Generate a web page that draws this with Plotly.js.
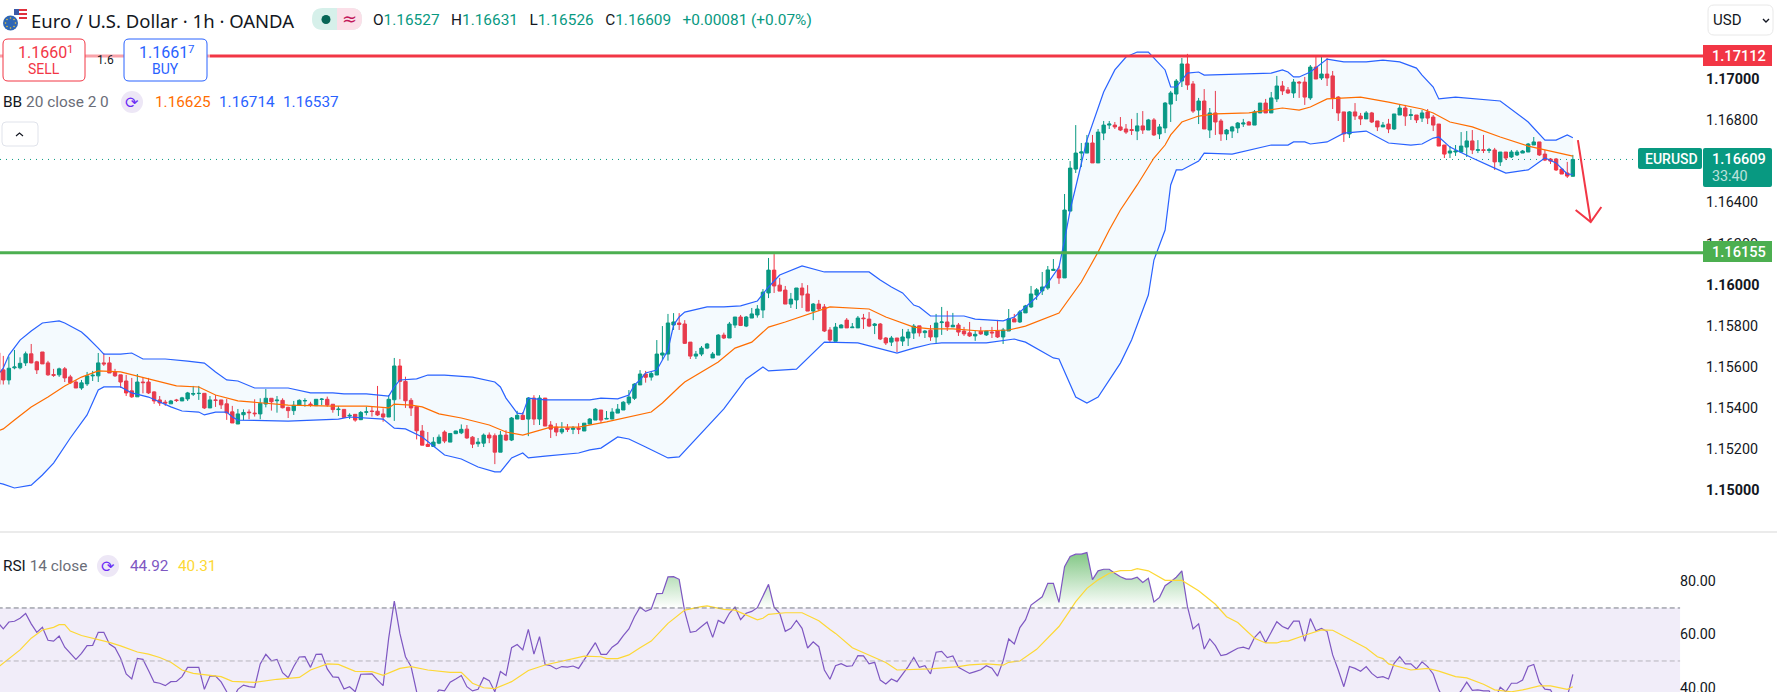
<!DOCTYPE html>
<html><head><meta charset="utf-8">
<script src="https://cdn.plot.ly/plotly-3.0.1.min.js"></script>
<style>html,body{margin:0;padding:0;background:#fff;overflow:hidden}#c{width:1777px;height:692px}</style>
</head><body><div id="c"></div>
<script>
// All prices below are in pipettes (price x 100000)
const opens=[115586,115537,115596,115596,115620,115664,115625,115673,115620,115563,
115562,115591,115552,115527,115498,115518,115557,115557,115620,115620,
115576,115562,115532,115484,115455,115527,115527,115479,115440,115429,
115421,115440,115435,115445,115468,115471,115472,115401,115440,115440,
115421,115382,115323,115368,115381,115376,115372,115420,115448,115436,
115438,115404,115388,115414,115435,115420,115412,115442,115443,115419,
115393,115394,115362,115370,115344,115380,115386,115385,115372,115357,
115441,115605,115530,115438,115407,115289,115224,115214,115230,115284,
115235,115276,115280,115298,115259,115227,115230,115269,115266,115186,
115269,115245,115347,115365,115347,115449,115347,115449,115318,115308,
115284,115303,115297,115303,115289,115323,115342,115391,115347,115347,
115376,115391,115425,115448,115513,115566,115551,115561,115658,115663,
115804,115814,115809,115721,115653,115663,115692,115644,115658,115755,
115741,115804,115843,115799,115838,115853,115877,115960,116071,115998,
115974,115906,115926,115984,115955,115872,115906,115892,115780,115725,
115790,115828,115791,115790,115838,115833,115802,115809,115741,115721,
115741,115726,115741,115765,115800,115767,115779,115746,115816,115819,
115795,115804,115775,115766,115751,115774,115756,115770,115775,115746,
115775,115834,115819,115863,115892,115950,115970,115984,116069,116072,
116033,116358,116562,116640,116640,116689,116592,116737,116776,116776,
116767,116757,116754,116747,116772,116752,116801,116733,116762,116878,
116927,116990,117073,116976,116849,116893,116752,116835,116796,116733,
116747,116762,116781,116791,116776,116835,116883,116835,116903,116966,
116947,116932,116985,116985,116908,117058,117005,117024,117015,116912,
116840,116733,116840,116820,116806,116835,116796,116767,116781,116757,
116825,116859,116823,116825,116810,116840,116815,116781,116679,116640,
116645,116645,116669,116699,116653,116656,116653,116655,116597,116645,
116621,116631,116640,116645,116679,116694,116635,116611,116611,116562,
116543,116527];
const highs=[115654,115651,115683,115647,115675,115712,115630,115673,115630,115591,
115597,115600,115562,115537,115537,115576,115581,115668,115668,115649,
115591,115562,115562,115547,115566,115547,115547,115482,115459,115440,
115440,115445,115455,115479,115508,115508,115472,115459,115464,115440,
115445,115411,115396,115394,115394,115443,115448,115493,115448,115459,
115448,115407,115435,115443,115448,115431,115443,115449,115456,115419,
115410,115394,115375,115370,115386,115407,115410,115508,115399,115464,
115644,115639,115553,115449,115410,115318,115284,115259,115272,115292,
115277,115290,115321,115318,115264,115255,115277,115282,115277,115289,
115293,115357,115387,115381,115454,115463,115463,115449,115337,115327,
115332,115323,115313,115327,115327,115352,115400,115391,115386,115400,
115420,115434,115488,115521,115585,115581,115579,115731,115799,115858,
115862,115862,115828,115721,115678,115702,115717,115673,115760,115767,
115819,115843,115853,115848,115887,115901,115979,116130,116149,116033,
115994,115960,115984,116008,115998,115911,115926,115906,115794,115814,
115809,115838,115814,115848,115858,115867,115814,115814,115746,115751,
115741,115785,115785,115809,115800,115780,115804,115858,115892,115873,
115863,115814,115795,115819,115775,115795,115775,115795,115829,115790,
115882,115858,115877,115902,115994,115984,116062,116091,116125,116091,
116441,116601,116776,116689,116728,116728,116757,116796,116796,116791,
116815,116781,116806,116835,116844,116806,116810,116781,116888,116942,
117000,117102,117122,116990,116908,116951,116859,116942,116806,116757,
116772,116791,116806,116796,116849,116883,116903,116937,117015,116990,
116961,117000,116990,117010,117068,117107,117112,117102,117039,116917,
116840,116844,116883,116835,116844,116840,116796,116791,116806,116830,
116878,116874,116854,116825,116849,116854,116825,116781,116679,116674,
116679,116742,116747,116752,116703,116728,116665,116665,116645,116645,
116655,116655,116655,116689,116718,116694,116655,116616,116616,116567,
116597,116631];
const lows=[115515,115515,115589,115589,115605,115618,115566,115615,115557,115552,
115552,115527,115518,115498,115489,115508,115532,115527,115605,115571,
115552,115498,115459,115450,115455,115472,115469,115421,115411,115411,
115421,115430,115435,115435,115459,115440,115396,115401,115406,115396,
115343,115328,115323,115342,115346,115359,115346,115404,115388,115378,
115399,115352,115367,115414,115407,115407,115412,115415,115407,115378,
115362,115355,115347,115334,115342,115365,115359,115362,115334,115357,
115338,115443,115401,115362,115248,115220,115211,115211,115225,115230,
115235,115274,115274,115251,115206,115212,115211,115230,115128,115186,
115240,115240,115347,115342,115264,115318,115318,115313,115255,115264,
115274,115284,115274,115274,115289,115321,115342,115327,115347,115347,
115376,115391,115415,115440,115513,115524,115534,115561,115634,115631,
115780,115780,115712,115639,115639,115653,115687,115644,115658,115736,
115741,115790,115799,115794,115838,115840,115838,115935,115960,115969,
115906,115887,115882,115887,115872,115828,115872,115770,115721,115725,
115790,115790,115791,115790,115785,115794,115760,115731,115707,115702,
115673,115702,115702,115736,115748,115741,115727,115717,115756,115775,
115795,115751,115751,115746,115727,115756,115751,115741,115741,115712,
115775,115819,115814,115863,115887,115926,115950,115975,116069,116004,
116033,116358,116543,116572,116640,116592,116592,116703,116757,116757,
116747,116733,116728,116703,116733,116752,116723,116708,116737,116791,
116893,116961,116947,116835,116781,116757,116713,116728,116699,116703,
116713,116737,116767,116776,116776,116835,116835,116835,116888,116922,
116927,116908,116908,116874,116898,117000,116995,116966,116854,116796,
116694,116713,116801,116776,116806,116786,116747,116767,116737,116752,
116825,116772,116801,116786,116791,116781,116747,116674,116616,116616,
116626,116640,116621,116635,116640,116640,116640,116558,116577,116606,
116616,116626,116640,116645,116679,116626,116601,116587,116553,116538,
116519,116526];
const closes=[115537,115594,115600,115618,115664,115620,115586,115615,115562,115560,
115591,115547,115523,115498,115523,115557,115560,115620,115615,115571,
115557,115527,115474,115455,115527,115524,115474,115435,115425,115425,
115435,115437,115450,115474,115471,115472,115401,115440,115438,115416,
115377,115328,115372,115379,115378,115373,115423,115448,115431,115439,
115402,115388,115414,115438,115437,115417,115443,115444,115415,115393,
115395,115355,115365,115342,115379,115382,115384,115367,115357,115443,
115605,115530,115436,115401,115290,115220,115214,115235,115259,115240,
115277,115289,115297,115255,115225,115235,115269,115255,115186,115269,
115245,115352,115365,115345,115449,115347,115449,115313,115298,115284,
115298,115297,115303,115298,115327,115347,115395,115342,115350,115381,
115395,115429,115454,115517,115566,115550,115568,115663,115668,115814,
115819,115807,115715,115653,115663,115692,115712,115663,115755,115741,
115809,115843,115802,115843,115858,115882,115964,116071,115994,115969,
115906,115930,115984,115950,115872,115906,115882,115775,115731,115794,
115804,115790,115794,115838,115835,115799,115809,115736,115717,115741,
115726,115746,115770,115799,115766,115775,115746,115814,115819,115795,
115803,115770,115761,115751,115759,115761,115775,115766,115746,115780,
115834,115819,115868,115897,115955,115975,115989,116072,116075,116033,
116363,116567,116640,116645,116689,116592,116742,116776,116781,116767,
116752,116742,116750,116772,116752,116801,116728,116767,116883,116932,
116990,117073,116971,116844,116893,116757,116835,116791,116733,116752,
116767,116786,116786,116776,116840,116883,116835,116908,116966,116942,
116932,116985,116981,116912,117058,117000,117024,117005,116908,116835,
116733,116840,116820,116806,116835,116791,116767,116776,116757,116830,
116859,116820,116826,116801,116835,116810,116776,116674,116635,116650,
116650,116674,116699,116655,116656,116653,116656,116597,116645,116616,
116645,116645,116650,116684,116694,116631,116606,116601,116558,116538,
116528,116609];

// Bollinger bands: bar number and value
const upperBars=[-1,0,1,3,5,7,10,11,14,15,17,18,21,23,25,29,33,36,38,40,42,45,47,51,55,59,61,65,69,70,71,74,76,79,84,88,89,90,92,93,94,97,105,107,110,112,113,114,115,117,119,120,121,122,126,129,132,135,137,139,143,147,155,157,159,161,163,164,166,172,174,179,181,185,187,189,190,191,192,194,197,199,201,203,205,208,209,210,212,214,215,224,227,229,230,231,232,234,237,240,244,247,250,253,254,256,257,260,268,273,276,278,280,281];
const upperVals=[115561,115595,115658,115731,115775,115814,115824,115814,115770,115746,115692,115663,115663,115668,115639,115639,115629,115619,115576,115537,115532,115498,115498,115498,115474,115474,115469,115469,115459,115503,115537,115542,115561,115561,115551,115527,115503,115449,115376,115372,115449,115440,115440,115449,115445,115464,115513,115537,115571,115585,115683,115804,115843,115867,115892,115892,115897,115921,115989,116047,116091,116062,116062,116023,115989,115960,115901,115892,115848,115848,115833,115824,115843,115940,116008,116086,116217,116363,116475,116703,116937,117044,117107,117131,117131,117044,116961,116961,117029,117034,117019,117024,117029,117044,117034,117010,117010,117034,117097,117083,117083,117092,117083,117053,117019,116961,116903,116912,116893,116791,116703,116703,116728,116714];
const basisBars=[-1,0,2,5,8,11,14,17,21,26,31,35,38,42,46,51,59,65,69,70,73,75,78,82,87,90,93,96,98,103,108,116,118,121,122,128,131,134,137,140,145,148,155,158,163,166,170,175,180,183,189,191,193,196,198,200,203,206,208,209,211,214,217,223,229,232,234,237,243,248,254,256,259,263,268,273,281];
const basisVals=[115289,115299,115342,115406,115454,115508,115551,115581,115576,115542,115508,115503,115464,115435,115425,115415,115410,115410,115401,115420,115415,115406,115372,115352,115318,115284,115269,115294,115308,115308,115333,115381,115425,115503,115527,115624,115692,115721,115794,115819,115867,115892,115882,115843,115794,115785,115785,115775,115780,115799,115862,115935,116013,116159,116266,116363,116485,116616,116679,116728,116791,116820,116830,116835,116859,116849,116864,116903,116912,116888,116854,116835,116791,116767,116718,116674,116625];
const lowerBars=[-1,0,2,5,7,9,12,14,15,17,18,21,23,26,30,32,35,36,38,40,41,42,51,60,62,68,70,72,75,79,82,85,88,89,91,93,94,97,103,105,107,110,112,115,119,121,129,133,136,137,142,147,153,160,163,166,168,176,181,183,186,188,189,192,194,196,200,202,205,206,208,209,210,211,214,215,220,225,227,230,231,233,234,237,240,244,248,252,254,256,257,259,263,267,269,273,276,278,280,281];
const lowerVals=[115036,115031,115012,115026,115075,115133,115255,115328,115367,115488,115503,115503,115474,115454,115406,115386,115381,115367,115381,115381,115357,115342,115337,115347,115357,115347,115303,115299,115260,115172,115153,115114,115090,115090,115158,115182,115158,115167,115182,115197,115206,115260,115250,115211,115158,115163,115396,115542,115600,115581,115590,115721,115717,115668,115692,115712,115717,115717,115736,115721,115673,115644,115639,115454,115425,115454,115619,115731,115950,116120,116266,116485,116558,116558,116601,116640,116635,116665,116679,116679,116694,116694,116684,116694,116737,116747,116689,116679,116684,116713,116718,116669,116616,116567,116543,116558,116616,116592,116538,116537];

// RSI by bar, first value is bar -1
const rsi=[64.6,62.1,64.7,65.0,66.1,67.9,64.0,60.8,62.7,57.8,57.5,59.4,55.2,52.9,50.6,52.9,55.8,55.9,60.8,60.8,56.4,55.0,51.0,45.1,43.2,51.0,50.6,46.4,42.0,41.6,40.7,42.2,42.3,44.1,47.6,47.6,47.6,39.3,44.3,44.3,42.1,38.4,35.3,39.3,40.9,40.3,40.1,48.9,52.5,50.1,50.6,45.6,43.7,47.9,51.5,51.6,47.6,52.5,52.6,47.0,44.0,43.8,39.4,40.3,38.4,45.0,45.1,45.1,42.8,40.7,58.6,72.6,60.4,51.6,47.9,38.4,35,34,36,39.1,38.7,42.0,43.2,44.5,40.3,38.7,39.3,43.7,42.6,38.4,46.0,44.5,55.0,56.2,54.2,61.9,52.6,59.2,48.7,48.2,47.0,47.9,47.7,48.1,47.2,50.4,53.5,56.9,52.5,
52.5,55.2,56.7,59.6,62.1,66.7,70.3,68.7,69.6,75.4,75.5,81.7,81.8,80.8,68.6,60.8,61.2,63.0,64.7,58.9,65.3,64.2,68.0,70.3,65.6,68.0,68.7,70.1,74.3,78.9,70.3,68.0,61.2,62.3,65.3,62.3,54.9,57.2,55.4,46.6,43.1,48.2,49.0,48.0,48.2,52.0,51.9,48.9,49.5,42.8,41.3,43.2,42.2,45.0,47.9,51.3,47.6,48.2,45.1,53.3,53.6,51.3,51.9,47.6,46.6,45.3,46.0,46.7,48.2,47.3,44.3,50.1,58.3,56.4,62.6,65.5,71.1,72.8,74.2,79.3,79.3,72.1,85.6,89.4,90.3,90.3,90.9,80.7,84.0,
84.6,84.6,83.1,81.8,80.9,80.9,81.6,79.6,81.2,72.3,74.0,78.4,79.9,81.6,84.0,70.5,62.1,64.0,54.5,58.3,55.8,52.0,52.5,53.5,54.8,55.2,54.5,58.8,61.1,57.0,60.8,64.8,63.0,62.1,65.0,65.0,57.4,66.0,61.4,62.3,61.1,52.3,46.6,40.3,47.9,47.2,46.1,47.9,45.3,43.7,44.1,43.2,49.1,51.6,48.9,48.9,47.0,49.7,47.9,45.1,39.1,35.3,34.7,36.5,38.7,42.0,38.9,39.1,38.7,38.7,35.3,40.1,38.4,41.6,41.6,42.8,47.9,48.7,42.0,39.4,39.1,35.3,34.0,36.5,44.92];
const maBars=[-1,3,5,7,9,10,11,12,14,17,19,21,24,26,28,30,32,34,37,39,41,45,49,53,55,58,60,63,66,68,71,73,76,80,82,84,86,88,91,94,97,102,104,107,108,110,112,114,116,119,122,125,126,129,131,135,136,137,140,143,146,148,149,152,155,158,160,166,171,173,176,179,180,182,185,188,189,191,192,194,196,198,200,202,203,205,207,208,211,214,217,219,221,224,226,228,229,230,233,236,238,241,244,246,247,248,252,255,257,260,262,265,267,270,272,275,277,280,281];
const maVals=[47.5,54.2,58.6,61.7,62.7,63.7,63.7,61.3,59.6,58.2,57.0,55.7,53.4,52.6,51.3,49.5,46.6,45.3,44.7,44.1,42.3,41.9,43.1,43.8,46.6,48.9,48.7,46.1,46.0,44.6,47.2,47.9,46.6,45.7,45.7,41.6,39.9,39.6,42.2,46.4,48.5,51.0,51.8,51.6,50.9,50.9,52.3,55.0,57.5,64.2,69.2,70.5,70.8,69.5,69.2,65.5,66.1,67.6,68.2,68.2,65.2,61.9,60.4,55.0,52.3,49.4,46.6,47.0,47.9,48.5,48.9,48.4,49.5,50.0,54.4,61.1,63.0,69.2,72.4,77.4,80.6,83.1,84.1,84.2,84.8,84.0,81.4,80.4,80.4,76.5,71.4,66.7,64.5,58.6,56.8,56.8,57.5,57.5,59.7,61.7,61.6,58.3,54.9,51.6,50.9,48.9,46.6,47.2,46.2,44.1,43.6,41.2,39.1,38.4,39.1,40.6,40.6,39.3,40.31];

// hand-drawn arrow on the chart
const arrowBars=[281.9,284.2,null,281.5,284.2,286.1];
const arrowVals=[116703,116305,null,116363,116305,116378];

const resLevel=1.17112, supLevel=1.16155, lastPrice=1.16609;
const priceTicks=[1.17,1.168,1.166,1.164,1.162,1.16,1.158,1.156,1.154,1.152,1.15];
const priceTickText=['<b>1.17000</b>','1.16800','1.16600','1.16400','1.16200','<b>1.16000</b>','1.15800','1.15600','1.15400','1.15200','<b>1.15000</b>'];
const rsiTicks=[80,60,40];
const rsiTickText=['80.00','60.00','40.00'];

const P=a=>a.map(v=>v==null?null:v/1e5);
const bars=opens.map((_,i)=>i);
const rsiBars=rsi.map((_,i)=>i-1);
const UP='#089981',DN='#f23645',BLUE='#2962ff',ORG='#ff6d00',PUR='#7e57c2',YEL='#fdd835',INK='#131722',GRY='#6a6d78';
const W=1703,H=692;
const X=p=>p/W, Y=p=>1-p/H;
const FONT='Roboto, sans-serif';

const traces=[
 {type:'scatter',mode:'lines',x:lowerBars,y:P(lowerVals),line:{color:BLUE,width:1.2},xaxis:'x',yaxis:'y',hoverinfo:'skip'},
 {type:'scatter',mode:'lines',x:upperBars,y:P(upperVals),line:{color:BLUE,width:1.2},fill:'tonexty',fillcolor:'rgba(33,150,243,0.05)',xaxis:'x',yaxis:'y',hoverinfo:'skip'},
 {type:'scatter',mode:'lines',x:basisBars,y:P(basisVals),line:{color:ORG,width:1.2},xaxis:'x',yaxis:'y',hoverinfo:'skip'},
 {type:'candlestick',x:bars,open:P(opens),high:P(highs),low:P(lows),close:P(closes),whiskerwidth:0,
  increasing:{line:{color:UP,width:1},fillcolor:UP},decreasing:{line:{color:DN,width:1},fillcolor:DN},xaxis:'x',yaxis:'y',hoverinfo:'skip'},
 {type:'scatter',mode:'lines',x:[-0.62,-0.62],y:[1.15669,1.15515],line:{color:DN,width:1},xaxis:'x',yaxis:'y',hoverinfo:'skip'},
 {type:'scatter',mode:'lines',x:arrowBars,y:P(arrowVals),line:{color:DN,width:2},connectgaps:false,xaxis:'x',yaxis:'y',hoverinfo:'skip'},
 // RSI
 {type:'scatter',mode:'lines',x:rsiBars,y:rsi.map(()=>70),line:{width:0},xaxis:'x',yaxis:'y2',hoverinfo:'skip'},
 {type:'scatter',mode:'lines',x:rsiBars,y:rsi.map(v=>Math.max(v,70)),line:{width:0},fill:'tonexty',
  fillgradient:{type:'vertical',start:70,stop:91,colorscale:[[0,'rgba(76,175,80,0)'],[1,'rgba(76,175,80,0.7)']]},xaxis:'x',yaxis:'y2',hoverinfo:'skip'},
 {type:'scatter',mode:'lines',x:rsiBars,y:rsi,line:{color:PUR,width:1.2},xaxis:'x',yaxis:'y2',hoverinfo:'skip'},
 {type:'scatter',mode:'lines',x:maBars,y:maVals,line:{color:YEL,width:1.2},xaxis:'x',yaxis:'y2',hoverinfo:'skip'}
];

function rr(x0,y0,x1,y1,r){
 const a=X(x0),b=X(x1),c=Y(y0),d=Y(y1),rx=r/W,ry=r/H;
 return `M${a+rx},${c} L${b-rx},${c} Q${b},${c} ${b},${c-ry} L${b},${d+ry} Q${b},${d} ${b-rx},${d} L${a+rx},${d} Q${a},${d} ${a},${d+ry} L${a},${c-ry} Q${a},${c} ${a+rx},${c} Z`;
}
const box=(x0,y0,x1,y1,r,fill,line)=>({type:'path',xref:'paper',yref:'paper',path:rr(x0,y0,x1,y1,r),fillcolor:fill,line:{color:line||fill,width:line?1:0},layer:'above'});
const rect=(x0,y0,x1,y1,fill)=>({type:'rect',xref:'paper',yref:'paper',x0:X(x0),x1:X(x1),y0:Y(y0),y1:Y(y1),fillcolor:fill,line:{width:0},layer:'above'});
const circ=(cx,cy,r,fill)=>({type:'circle',xref:'paper',yref:'paper',x0:X(cx-r),x1:X(cx+r),y0:Y(cy-r),y1:Y(cy+r),fillcolor:fill,line:{width:0},layer:'above'});
const poly=(pts,color,w)=>({type:'path',xref:'paper',yref:'paper',path:pts.map((p,i)=>(i?'L':'M')+X(p[0])+','+Y(p[1])).join(' '),line:{color,width:w},layer:'above'});
const euroStars=[[10.5,18],[14,19.5],[15.5,23],[14,26.5],[10.5,28],[7,26.5],[5.5,23],[7,19.5]];

const shapes=[
 // RSI band and levels
 {type:'rect',xref:'x',yref:'y2',x0:-1,x1:300.2,y0:30,y1:70,fillcolor:'#f1edf9',line:{width:0},layer:'below'},
 {type:'line',xref:'x',yref:'y2',x0:-1,x1:300.2,y0:70,y1:70,line:{color:'#787b86',width:1,dash:'5px,3px'},layer:'above'},
 {type:'line',xref:'x',yref:'y2',x0:-1,x1:300.2,y0:50,y1:50,line:{color:'#b5b3bc',width:1,dash:'5px,3px'},layer:'above'},
 // pane separator
 {type:'line',xref:'paper',yref:'paper',x0:0,x1:1777/W,y0:Y(532),y1:Y(532),line:{color:'#ebebeb',width:2},layer:'above'},
 // levels
 {type:'line',xref:'paper',yref:'y',x0:0,x1:1,y0:lastPrice,y1:lastPrice,line:{color:UP,width:1,dash:'1px,5px'},layer:'below'},
 {type:'line',xref:'paper',yref:'y',x0:0,x1:X(210),y0:resLevel,y1:resLevel,line:{color:'#f9a2a9',width:3},layer:'above'},
 {type:'line',xref:'paper',yref:'y',x0:X(210),x1:1,y0:resLevel,y1:resLevel,line:{color:DN,width:3},layer:'above'},
 {type:'line',xref:'paper',yref:'y',x0:0,x1:1,y0:supLevel,y1:supLevel,line:{color:'#4caf50',width:3},layer:'above'},
 // right labels
 rect(1703,45,1772,66,DN),
 box(1638,148,1702,169,2,UP),
 box(1703,148,1772,187,2,UP),
 rect(1703,241,1772,262,'#4caf50'),
 // usd dropdown
 box(1708,5,1773,35,6,'#ffffff','#e8e8e8'),
 poly([[1763,19],[1766,22],[1769,19]],INK,1.4),
 // icon
 circ(20,16,7,'#ffffff'),
 rect(17,9,27,11,'#e0303c'),rect(19,13,27,15,'#e0303c'),rect(19,17,27,19,'#e0303c'),
 rect(14,9,19,15,'#3b5aa6'),
 circ(10.5,23,7.5,'#2e66b5'),
 ...euroStars.map(s=>circ(s[0],s[1],0.8,'#e8c53a')),
 // pill
 box(312,8,362,30,11,'#d6f0ea'),
 {type:'path',xref:'paper',yref:'paper',path:`M${X(337)},${Y(8)} L${X(351)},${Y(8)} Q${X(362)},${Y(8)} ${X(362)},${Y(19)} Q${X(362)},${Y(30)} ${X(351)},${Y(30)} L${X(337)},${Y(30)} Z`,fillcolor:'#fbdfe8',line:{width:0},layer:'above'},
 circ(326,19.5,4.5,'#056656'),
 // trade buttons
 box(3,39,85,81,5,'#ffffff',DN),
 box(124,39,207,81,5,'#ffffff',BLUE),
 // collapse button
 box(2,122,38,146,4,'#ffffff','#e0e3eb'),
 poly([[16,136],[19.5,133],[23,136]],INK,1.2),
 // refresh badges
 circ(132,102,11,'#ede7f6'),
 circ(108,566,11,'#ede7f6')
];

const ann=(x,y,text,size,color,extra)=>Object.assign({xref:'paper',yref:'paper',x:X(x),y:Y(y),text,showarrow:false,xanchor:'left',yanchor:'middle',borderpad:0,
  font:{family:FONT,size,color}},extra||{});
const c=(col,t)=>`<span style="color:${col}">${t}</span>`;
const labelFont=(size)=>({family:FONT,size,color:'#ffffff',weight:500});
const annotations=[
 ann(30,20,'Euro / U.S. Dollar · 1h · OANDA',18.5,INK,{font:{family:'Noto Sans',size:18.5,color:INK}}),
 ann(341,18,'≈',18,'#c2185b',{font:{family:'DejaVu Sans',size:18,color:'#c2185b'}}),
 ann(372,20,c(INK,'O')+c(UP,'1.16527')+'   '+c(INK,'H')+c(UP,'1.16631')+'   '+c(INK,'L')+c(UP,'1.16526')+'   '+c(INK,'C')+c(UP,'1.16609')+'   '+c(UP,'+0.00081 (+0.07%)'),15.4,INK),
 ann(17,52,'1.1660',16,DN),ann(66,49,'1',11.5,DN),
 ann(44,69,'SELL',14,DN,{xanchor:'center'}),
 ann(105,60,'1.6',12,INK,{xanchor:'center'}),
 ann(138,52,'1.1661',16,BLUE),ann(187,49,'7',11.5,BLUE),
 ann(165,69,'BUY',14,BLUE,{xanchor:'center'}),
 ann(2,102,c(INK,'BB')+' '+c(GRY,'20 close 2 0'),15.4,GRY),
 ann(132,102,'⟳',16,'#6b2cf5',{xanchor:'center',font:{family:'DejaVu Sans',size:16,color:'#6b2cf5'}}),
 ann(154,102,'1.16625',15.3,ORG),
 ann(218,102,'1.16714',15.3,BLUE),
 ann(282,102,'1.16537',15.3,BLUE),
 ann(2,566,c(INK,'RSI')+' '+c(GRY,'14 close'),15.4,GRY),
 ann(108,566,'⟳',16,'#6b2cf5',{xanchor:'center',font:{family:'DejaVu Sans',size:16,color:'#6b2cf5'}}),
 ann(129,566,'44.92',15.3,PUR),
 ann(177,566,'40.31',15.3,YEL),
 ann(1712,20,'USD',15,INK),
 ann(1711,56,'1.17112',14.6,'#ffffff',{font:labelFont(14.6)}),
 ann(1644,158.5,'EURUSD',14,'#ffffff',{font:labelFont(14)}),
 ann(1711,158.5,'1.16609',14.6,'#ffffff',{font:labelFont(14.6)}),
 ann(1711,176.5,'33:40',14.3,'#ffffff',{opacity:0.72}),
 ann(1711,252,'1.16155',14.6,'#ffffff',{font:labelFont(14.6)})
];

const layout={
 width:1777,height:692,margin:{l:0,r:74,t:0,b:0,pad:0},paper_bgcolor:'#fff',plot_bgcolor:'#fff',showlegend:false,boxgap:0.14,
 font:{family:FONT,color:INK},
 xaxis:{range:[-0.59,304.3],domain:[0,1],visible:false,fixedrange:true,rangeslider:{visible:false}},
 yaxis:{domain:[160/692,1],range:[1.14798,1.17384],side:'right',anchor:'x',showgrid:false,zeroline:false,showline:false,
  tickmode:'array',tickvals:priceTicks,ticktext:priceTickText,ticks:'',ticklabelstandoff:2,tickfont:{family:FONT,size:14.3,color:INK},fixedrange:true},
 yaxis2:{domain:[0,158/692],range:[38.3,97.9],side:'right',anchor:'free',position:1679/1703,showgrid:false,zeroline:false,showline:false,
  tickmode:'array',tickvals:rsiTicks,ticktext:rsiTickText,ticks:'',ticklabeloverflow:'allow',tickfont:{family:FONT,size:14.3,color:INK},fixedrange:true},
 shapes,annotations
};
Plotly.newPlot('c',traces,layout,{displayModeBar:false,staticPlot:true});
</script></body></html>
